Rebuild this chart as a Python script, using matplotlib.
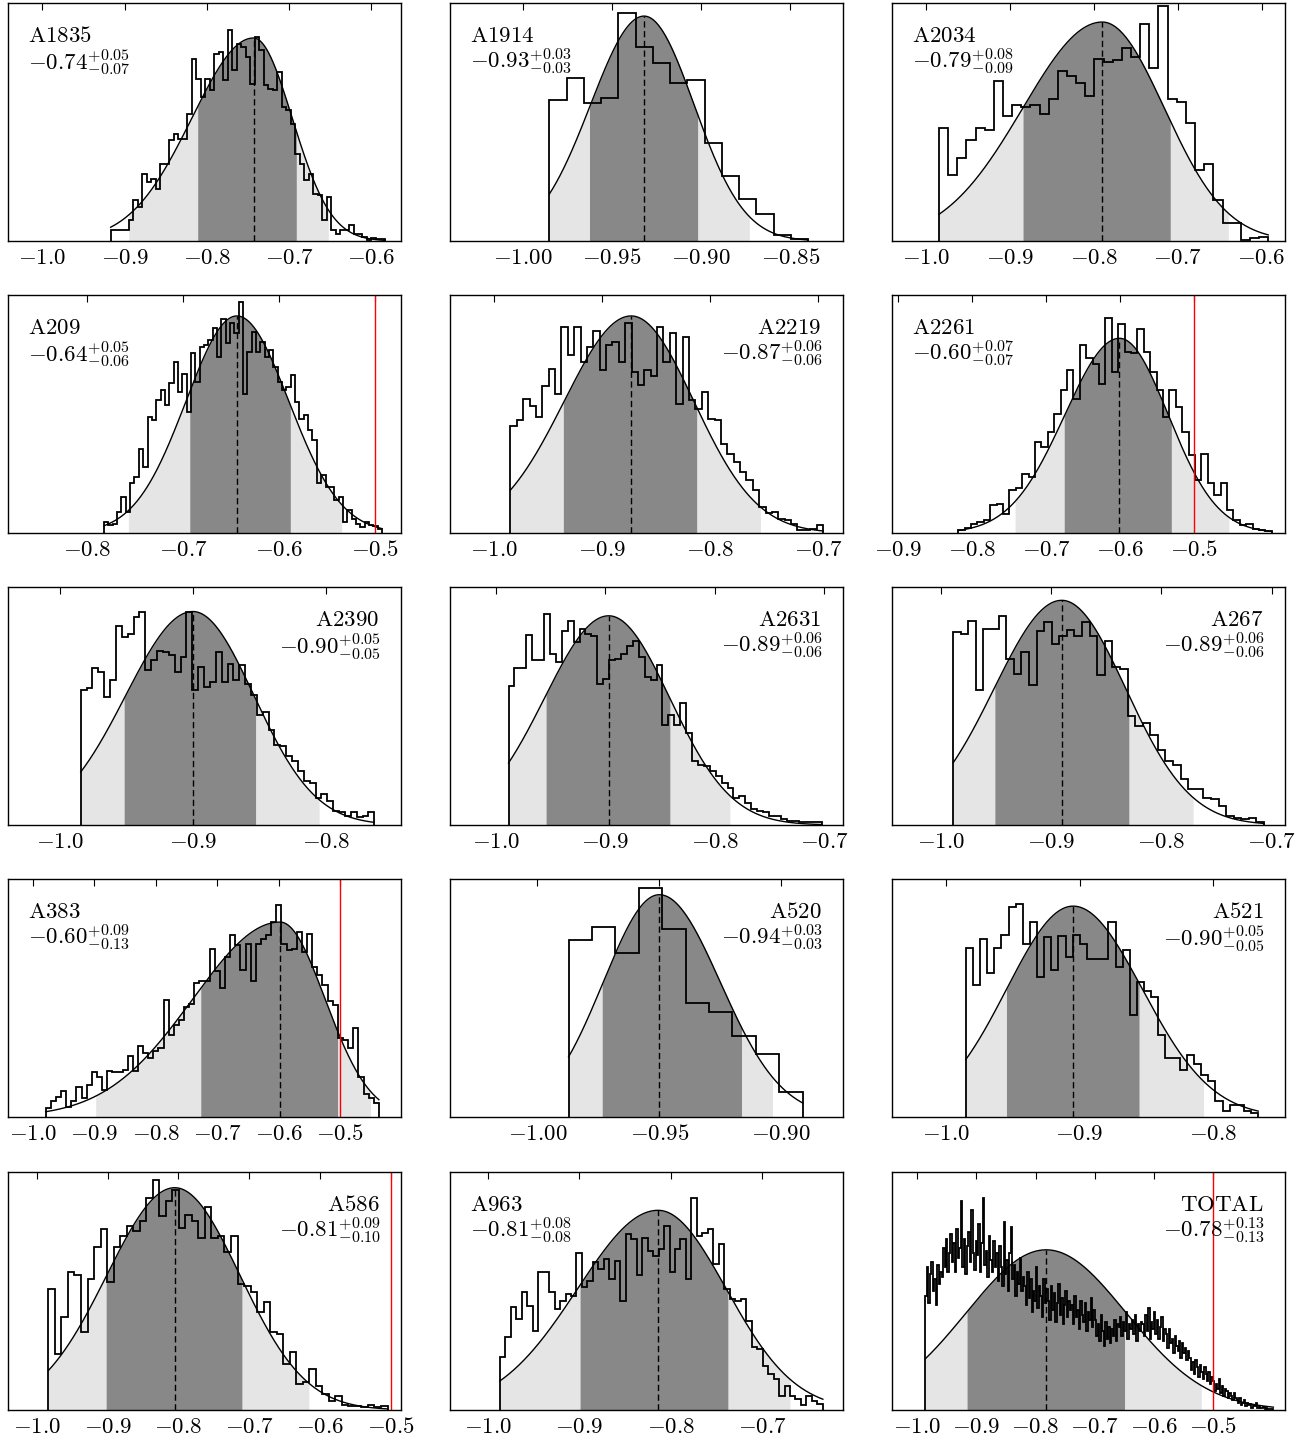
import numpy as np
import matplotlib
matplotlib.use('Agg')
import matplotlib.pyplot as plt

plt.rcParams['mathtext.fontset'] = 'cm'

# ---- panel data (heights in % of the panel height) ----
names = ['A1835', 'A1914', 'A2034', 'A209', 'A2219', 'A2261', 'A2390', 'A2631',
         'A267', 'A383', 'A520', 'A521', 'A586', 'A963', 'TOTAL']
med_txt = ['-0.74', '-0.93', '-0.79', '-0.64', '-0.87', '-0.60', '-0.90', '-0.89',
           '-0.89', '-0.60', '-0.94', '-0.90', '-0.81', '-0.81', '-0.78']
up_txt = ['0.05', '0.03', '0.08', '0.05', '0.06', '0.07', '0.05', '0.06',
          '0.06', '0.09', '0.03', '0.05', '0.09', '0.08', '0.13']
lo_txt = ['0.07', '0.03', '0.09', '0.06', '0.06', '0.07', '0.05', '0.06',
          '0.06', '0.13', '0.03', '0.05', '0.10', '0.08', '0.13']
label_right = [False, False, False, False, True, False, True, True,
               True, False, True, True, True, False, True]
has_red = [False, False, False, True, False, True, False, False,
           False, True, False, False, True, False, True]

x_min = [-1.042, -1.0407, -1.041, -0.8819, -1.0403, -0.9086, -1.039, -1.042,
         -1.044, -1.0407, -1.0358, -1.0409, -1.0407, -1.0413, -1.0422]
x_max = [-0.5635, -0.8204, -0.572, -0.4733, -0.677, -0.377, -0.7434, -0.683,
         -0.688, -0.401, -0.8747, -0.7456, -0.4858, -0.612, -0.379]
ticks = [[-1.0, -0.9, -0.8, -0.7, -0.6], [-1.0, -0.95, -0.9, -0.85],
         [-1.0, -0.9, -0.8, -0.7, -0.6], [-0.8, -0.7, -0.6, -0.5],
         [-1.0, -0.9, -0.8, -0.7], [-0.9, -0.8, -0.7, -0.6, -0.5],
         [-1.0, -0.9, -0.8], [-1.0, -0.9, -0.8, -0.7], [-1.0, -0.9, -0.8, -0.7],
         [-1.0, -0.9, -0.8, -0.7, -0.6, -0.5], [-1.0, -0.95, -0.9],
         [-1.0, -0.9, -0.8], [-1.0, -0.9, -0.8, -0.7, -0.6, -0.5],
         [-1.0, -0.9, -0.8, -0.7], [-1.0, -0.9, -0.8, -0.7, -0.6, -0.5]]
tick_dec = [1, 2, 1, 1, 1, 1, 1, 1, 1, 1, 2, 1, 1, 1, 1]

hist_lo = [-0.917, -0.985, -0.985, -0.782, -0.9845, -0.819, -0.9843, -0.9885,
           -0.9886, -0.9794, -0.9872, -0.9855, -0.9837, -0.9869, -0.9859]
hist_hi = [-0.583, -0.840, -0.592, -0.4931, -0.6955, -0.395, -0.7635, -0.702,
           -0.707, -0.437, -0.8912, -0.7657, -0.5048, -0.634, -0.3986]

# fitted curve: mode, peak height, left / right widths
mode = [-0.743, -0.9319, -0.790, -0.6439, -0.8728, -0.6009, -0.900, -0.897,
        -0.8902, -0.5977, -0.950, -0.9048, -0.8052, -0.814, -0.7821]
peak = [85.3, 94.5, 92.0, 91.2, 91.2, 81.8, 89.7, 87.9,
        94.4, 81.9, 93.4, 88.6, 93.4, 83.9, 67.3]
sig_l = [0.075, 0.030, 0.095, 0.053, 0.062, 0.074, 0.0505, 0.0587,
         0.0614, 0.142, 0.023, 0.050, 0.096, 0.088, 0.135]
sig_r = [0.047, 0.028, 0.074, 0.054, 0.058, 0.066, 0.046, 0.0558,
         0.058, 0.073, 0.025, 0.052, 0.092, 0.0745, 0.135]

dark_lo = [-0.811, -0.9625, -0.8846, -0.6929, -0.9355, -0.6756, -0.9516, -0.9542,
           -0.9508, -0.7269, -0.9734, -0.9549, -0.9021, -0.8992, -0.9155]
dark_hi = [-0.691, -0.9019, -0.709, -0.5884, -0.8123, -0.5308, -0.8528, -0.8412,
           -0.8295, -0.5043, -0.9163, -0.8553, -0.7105, -0.7378, -0.6498]
light_lo = [-0.895, -0.985, -0.985, -0.7567, -0.9845, -0.7421, -0.9843, -0.9885,
            -0.9886, -0.898, -0.9872, -0.9855, -0.9837, -0.9869, -0.9859]
light_hi = [-0.652, -0.8729, -0.6397, -0.535, -0.7533, -0.4529, -0.805, -0.7863,
            -0.7712, -0.4506, -0.9036, -0.8068, -0.6159, -0.670, -0.5203]

counts_A1835 = [4.5, 4.5, 4.8, 4.8, 8.7, 17.1, 14.3, 28.3, 24.8, 26.2, 22.0, 32.5,
                32.5, 42.3, 45.1, 43.0, 43.0, 53.5, 76.6, 68.2, 60.5, 68.2, 63.3,
                78.7, 79.4, 67.5, 88.8, 71.7, 82.9, 81.5, 77.3, 66.1, 85.7, 80.1,
                65.4, 64.0, 63.3, 71.0, 56.3, 54.9, 49.3, 36.7, 32.5, 25.5, 28.3,
                19.9, 19.2, 8.7, 18.5, 4.5, 3.1, 4.5, 4.5, 6.6, 3.1, 3.1, 1.7,
                0.6, 1.4, 1.0, 1.0]
counts_A1914 = [59.4, 68.6, 58.0, 60.2, 95.9, 81.5, 74.8, 66.4, 67.5, 41.3, 27.2,
                17.5, 11.2, 2.4, 1.0]
counts_A2034 = [47.5, 27.9, 35.0, 42.6, 47.5, 46.8, 67.2, 52.4, 57.3, 56.3, 57.3,
                53.5, 59.8, 71.3, 69.2, 66.4, 60.9, 76.3, 75.2, 75.9, 81.1, 77.3,
                91.3, 72.7, 98.7, 59.8, 58.4, 49.6, 30.0, 32.5, 17.4, 7.6, 7.6,
                0.3, 1.3, 1.5]
counts_A209 = [4.6, 3.2, 3.9, 8.8, 15.1, 8.8, 20.8, 23.6, 35.5, 27.8, 48.8, 47.4,
               55.8, 60.0, 53.7, 63.1, 72.0, 59.3, 67.0, 50.9, 75.5, 63.5, 78.3,
               79.0, 81.1, 86.0, 74.1, 89.8, 79.7, 88.1, 83.9, 97.2, 58.6, 76.2,
               84.6, 76.2, 80.4, 74.1, 76.9, 69.8, 63.5, 60.0, 61.4, 66.3, 55.1,
               48.1, 49.5, 43.2, 39.0, 20.8, 24.3, 19.4, 19.4, 13.7, 15.1, 4.6,
               9.5, 6.0, 3.9, 2.5, 4.6, 3.2, 2.8, 1.8]
counts_A2219 = [44.9, 47.4, 56.1, 53.3, 48.8, 61.7, 69.1, 58.6, 86.4, 74.8, 86.4,
                72.0, 78.0, 85.0, 68.4, 79.0, 80.4, 72.0, 88.1, 67.7, 62.1, 68.4,
                65.9, 86.4, 72.0, 84.2, 54.4, 82.5, 55.8, 52.3, 59.3, 47.7, 47.4,
                37.6, 33.4, 29.9, 25.7, 22.2, 18.0, 10.9, 8.4, 8.8, 6.0, 5.3, 3.9,
                1.4, 1.1, 1.8, 3.2]
counts_A2261 = [1.4, 2.2, 3.9, 4.6, 5.6, 11.6, 12.3, 8.1, 18.0, 18.7, 25.0, 23.6,
                38.3, 36.2, 42.5, 50.2, 60.0, 68.4, 56.5, 79.0, 73.4, 71.2, 62.8,
                90.2, 67.7, 87.8, 76.2, 75.5, 85.6, 76.2, 67.7, 60.0, 48.8, 60.0,
                53.0, 42.5, 32.7, 22.2, 33.4, 20.8, 15.8, 20.8, 9.5, 5.3, 3.2, 3.9,
                1.8, 1.1, 0.8]
counts_A2390 = [56.7, 57.4, 66.1, 64.3, 53.9, 60.8, 83.8, 78.9, 80.3, 87.5, 89.7,
                65.0, 69.2, 73.3, 72.6, 71.3, 64.3, 70.6, 89.3, 56.7, 66.4, 58.1,
                60.1, 72.6, 60.1, 67.8, 60.8, 67.1, 59.4, 54.6, 46.3, 47.6, 40.0,
                33.8, 33.1, 28.9, 26.8, 22.6, 18.5, 17.8, 11.5, 12.9, 10.1, 6.0,
                5.3, 3.9, 5.3, 3.2, 3.9, 5.3]
counts_A2631 = [58.3, 66.1, 66.1, 80.0, 69.2, 69.2, 88.6, 71.7, 68.5, 81.4, 85.8,
                76.8, 82.4, 80.3, 79.6, 59.4, 61.5, 69.2, 69.9, 71.9, 75.4, 77.5,
                70.6, 62.2, 60.8, 67.1, 42.1, 46.3, 42.1, 51.1, 38.6, 26.8, 25.4,
                24.7, 22.6, 20.6, 17.8, 15.7, 11.5, 12.2, 9.4, 6.7, 6.0, 5.3, 3.9,
                3.6, 2.5, 1.8, 1.8, 1.4, 1.1, 1.1, 1.4]
counts_A267 = [81.0, 80.3, 85.8, 56.9, 82.4, 82.4, 87.9, 69.9, 63.6, 72.6, 58.8,
               81.7, 85.1, 76.1, 79.6, 81.9, 79.6, 85.1, 79.6, 62.9, 77.5, 66.4,
               65.7, 45.6, 41.4, 42.8, 37.9, 31.7, 26.8, 25.4, 19.2, 15.0, 15.0,
               11.5, 10.8, 8.1, 3.6, 2.8, 2.5, 3.1, 1.4]
counts_A383 = [3.8, 6.8, 8.2, 11.0, 4.0, 6.8, 12.8, 7.9, 13.5, 18.8, 16.6, 11.4,
               19.4, 19.1, 19.1, 19.8, 25.8, 19.4, 30.0, 26.8, 24.7, 27.8, 28.9,
               49.1, 34.4, 38.6, 40.7, 46.3, 47.3, 56.1, 57.0, 57.0, 70.7, 61.2,
               54.0, 67.2, 76.3, 72.1, 61.6, 72.8, 57.0, 72.8, 74.9, 76.3, 81.9,
               89.1, 72.8, 70.0, 70.7, 77.7, 69.3, 77.0, 63.0, 59.5, 55.4, 48.7,
               47.0, 33.1, 32.4, 28.9, 37.2, 17.0, 9.6, 7.9, 5.9]
counts_A520 = [74.2, 79.8, 68.9, 96.2, 79.2, 48.0, 44.2, 34.0, 26.4, 10.5]
counts_A521 = [71.0, 55.4, 74.9, 60.3, 71.0, 76.3, 88.4, 89.5, 72.8, 81.9, 58.9,
               75.6, 61.6, 76.0, 67.2, 76.3, 72.8, 66.2, 66.2, 66.2, 81.9, 63.0,
               70.0, 42.8, 56.8, 52.9, 50.5, 34.4, 24.7, 24.7, 19.8, 26.1, 22.2,
               17.7, 15.2, 6.6, 2.4, 5.2, 5.2, 2.6, 1.5]
counts_A586 = [51.0, 23.5, 38.9, 57.8, 56.6, 32.9, 55.2, 68.3, 76.2, 53.6, 68.3,
               73.1, 77.3, 75.2, 79.4, 89.2, 96.6, 81.5, 87.8, 92.4, 76.6, 81.8,
               79.4, 72.4, 85.5, 72.4, 73.1, 66.2, 72.9, 52.9, 52.2, 49.4, 41.0,
               45.2, 32.6, 31.9, 19.3, 24.2, 10.9, 11.6, 17.2, 10.2, 6.7, 3.9,
               6.0, 2.1, 1.5, 1.8, 1.1, 2.1, 1.1, 1.5]
counts_A963 = [22.1, 30.5, 43.1, 38.2, 49.4, 43.8, 33.3, 57.8, 57.8, 49.4, 42.4,
               45.9, 48.7, 48.0, 65.9, 51.5, 54.3, 62.0, 59.2, 63.4, 55.0, 62.7,
               45.9, 73.8, 71.7, 56.6, 72.4, 66.9, 64.8, 67.6, 77.3, 57.8, 67.6,
               71.7, 55.0, 89.2, 73.1, 74.5, 75.9, 61.3, 69.7, 50.8, 46.6, 45.9,
               46.6, 37.5, 26.3, 25.6, 18.6, 15.1, 13.0, 6.0, 10.2, 6.0, 4.6, 2.1,
               6.0, 3.9, 2.5]
counts_TOTAL = [48, 60, 45, 57, 62, 50, 55, 44, 61, 53, 58,
                56, 68, 60, 72, 58, 66, 74, 62,
                70, 58, 76, 64, 68, 88, 60, 72, 57, 69, 75, 62, 84, 66, 59, 71,
                65, 78, 58, 70, 89, 61, 67, 56, 73, 63, 58, 71, 60, 66, 54, 69,
                60, 52, 79, 57, 63, 50, 66, 77, 55, 61, 48, 58, 53, 64, 50, 56,
                52, 44, 58, 47, 55, 41, 50, 46, 60, 43, 52, 48, 39, 55, 45, 51,
                46, 38, 52, 42, 49, 37, 45, 53, 40, 47, 36, 44, 50, 39, 46, 42,
                44, 36, 48, 39, 42, 34, 46, 40, 37, 45, 33, 41, 38, 47, 35, 42,
                38, 31, 36, 29, 40, 33, 27, 37, 30, 35, 28, 34, 31, 38, 29, 36,
                35, 39, 31, 37, 33, 41, 30, 36, 34, 38, 32, 40, 29, 36, 33, 37,
                36, 31, 40, 33, 43, 30, 37, 34, 41, 32, 38, 30, 35, 39, 29, 34,
                32, 26, 34, 28, 30, 24, 31, 27, 25, 29, 22, 28, 24, 26, 21, 25,
                22, 17, 20, 15, 21, 18, 14, 19, 16, 13, 18, 15, 12, 16, 11, 14,
                12, 8, 11, 9, 13, 7, 10, 6, 9, 8, 5, 7, 6, 4, 7, 5,
                4, 3, 5, 2, 3, 4, 1.5, 3, 2, 2.5, 1, 2, 1.5, 3, 1, 1.5,
                1, 0.8, 1.2, 0.5, 0.8, 0.4, 0.6, 0.3, 0.5]

counts = [counts_A1835, counts_A1914, counts_A2034, counts_A209, counts_A2219,
          counts_A2261, counts_A2390, counts_A2631, counts_A267, counts_A383,
          counts_A520, counts_A521, counts_A586, counts_A963, counts_TOTAL]

RED_X = -0.5
FS = 16.5


def curve(x, m, h, sl, sr):
    s = np.where(x < m, sl, sr)
    return h * np.exp(-0.5 * ((x - m) / s) ** 2)


W, H = 1307, 1437
fig = plt.figure(figsize=(W / 100, H / 100), dpi=100)
col_left = [8, 450, 892]
row_top = [3, 295, 587, 879, 1172]
aw, ah = 393, 238

for i in range(15):
    r, c = divmod(i, 3)
    ax = fig.add_axes([col_left[c] / W, 1 - (row_top[r] + ah) / H, aw / W, ah / H])

    m, h, sl, sr = mode[i], peak[i], sig_l[i], sig_r[i]
    # shaded intervals under the curve
    xl = np.linspace(light_lo[i], light_hi[i], 400)
    ax.fill_between(xl, 0, curve(xl, m, h, sl, sr), color='#e5e5e5', lw=0)
    xd = np.linspace(dark_lo[i], dark_hi[i], 400)
    ax.fill_between(xd, 0, curve(xd, m, h, sl, sr), color='#888888', lw=0)

    # histogram
    edges = np.linspace(hist_lo[i], hist_hi[i], len(counts[i]) + 1)
    ax.stairs(counts[i], edges, color='k', lw=1.3, baseline=0)

    # fitted curve
    xc = np.linspace(hist_lo[i], hist_hi[i], 600)
    ax.plot(xc, curve(xc, m, h, sl, sr), color='k', lw=1.0)
    ax.plot([m, m], [0, h], color='k', lw=1.0, dashes=(4.5, 2.5))

    if has_red[i]:
        ax.axvline(RED_X, color='r', lw=1.0)

    ax.set_xlim(x_min[i], x_max[i])
    ax.set_ylim(0, 100)
    ax.set_yticks([])
    ax.set_xticks(ticks[i])
    ax.set_xticklabels(['$%.*f$' % (tick_dec[i], t) for t in ticks[i]])
    ax.tick_params(axis='x', direction='in', top=True, bottom=False,
                   length=5, width=0.8, labelsize=FS, pad=3.5)
    for sp in ax.spines.values():
        sp.set_linewidth(1.0)

    name = r'$\mathrm{%s}$' % names[i]
    val = r'$%s^{+%s}_{-%s}$' % (med_txt[i], up_txt[i], lo_txt[i])
    if label_right[i]:
        ax.text(0.945, 0.91, name, transform=ax.transAxes, ha='right', va='top', fontsize=FS)
        ax.text(0.948, 0.815, val, transform=ax.transAxes, ha='right', va='top', fontsize=FS)
    else:
        ax.text(0.052, 0.91, name, transform=ax.transAxes, ha='left', va='top', fontsize=FS)
        ax.text(0.052, 0.815, val, transform=ax.transAxes, ha='left', va='top', fontsize=FS)

fig.savefig('out.png', dpi=100)
